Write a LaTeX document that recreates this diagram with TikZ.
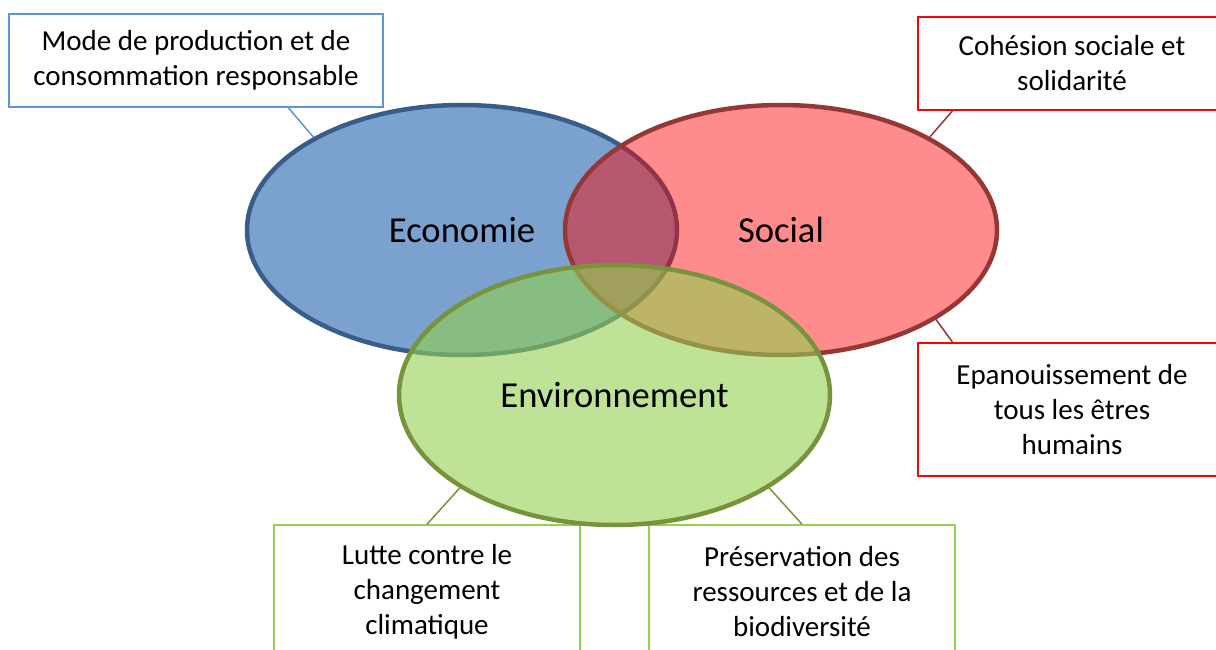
\documentclass[tikz,border=0pt]{standalone}
\usepackage{fontspec}
\setmainfont{Carlito}
\usetikzlibrary{shapes.geometric,calc}
\definecolor{ecofill}{HTML}{4F81BD}
\definecolor{ecoline}{HTML}{385D8A}
\definecolor{ecobox}{HTML}{5F95D8}
\definecolor{socfill}{HTML}{FF0000}
\definecolor{socline}{HTML}{953735}
\definecolor{envfill}{HTML}{92D050}
\definecolor{envline}{HTML}{77933C}
\begin{document}
\begin{tikzpicture}[x=1pt,y=-1pt,
	pole/.style={ellipse,line width=4.5pt,text opacity=1,minimum width=430pt,minimum height=250pt,font=\fontsize{36.6}{44}\selectfont},
	box/.style={draw,rectangle,line width=1.5pt,minimum width=306pt,align=center,font=\fontsize{29}{35}\selectfont},
	link/.style={line width=1.5pt}]
	\useasboundingbox (0,0) rectangle (1216,650);

	\node[box, draw=ecobox, minimum width=374pt, minimum height=93pt] (mode) at (196,60.5) {Mode de production et de\\consommation responsable};
	\node[box, draw=socfill, minimum width=308pt, minimum height=93pt] (cohesion) at (1072,63.5) {Cohésion sociale et\\solidarité};
	\node[box, draw=socfill, minimum width=308pt, minimum height=133pt] (epanou) at (1072,409.5) {Epanouissement de\\tous les êtres\\humains};
	\node[box, draw=envfill, minimum height=133pt] (lutte) at (427,591.5) {Lutte contre le\\changement\\climatique};
	\node[box, draw=envfill, minimum height=133pt] (preserv) at (802,591.5) {Préservation des\\ressources et de la\\biodiversité};

	\node[pole, fill=ecofill, fill opacity=.75, draw=ecoline] (eco) at (462,230) {Economie};
	\node[pole, fill=socfill, fill opacity=.45, draw=socline, minimum width=432pt] (soc) at (781,230) {Social};
	\node[pole, fill=envfill, fill opacity=.6, draw=envline, minimum width=431pt, minimum height=260pt] (env) at (614.5,395) {Environnement};

	\path[link, draw=ecobox] ($(mode.south west)!.746!(mode.south east)$) edge (eco.148);
	\path[link, draw=socline] ($(cohesion.south west)!.114!(cohesion.south east)$) edge (soc.32.4);
	\path[link, draw=socline] ($(epanou.north west)!.114!(epanou.north east)$) edge (soc.-30.6);
	\path[link, draw=envline] (lutte.north) edge (env.211);
	\path[link, draw=envline] (preserv.north) edge (env.-31.4);

\end{tikzpicture}
\end{document}
